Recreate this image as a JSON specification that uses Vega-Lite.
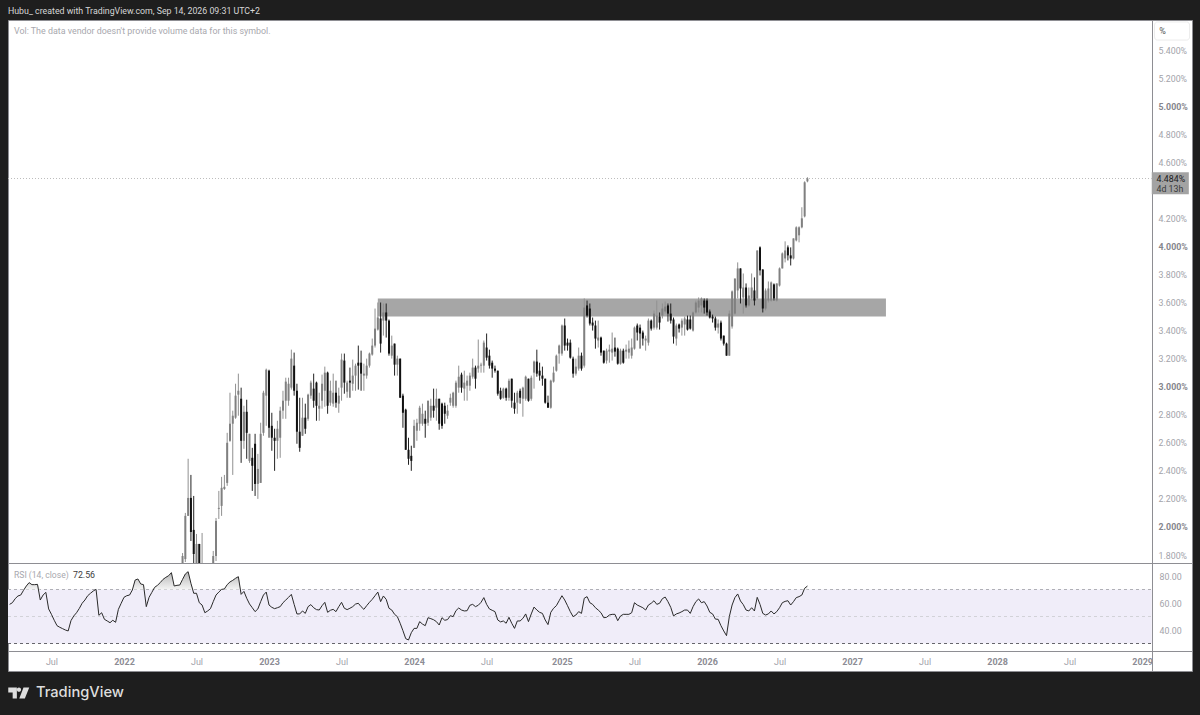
{
"$schema":"https://vega.github.io/schema/vega-lite/v6.json",
"background":"#1e1e1e",
"padding":{"left":7,"right":9,"top":6,"bottom":0},
"bounds":"flush",
"title":{"text":"Hubu_ created with TradingView.com, Sep 14, 2026 09:31 UTC+2","anchor":"start","frame":"group","font":"Roboto","fontSize":8.8,"fontWeight":"normal","color":"#d6d6d6","offset":4},
"spacing":0,
"config":{"concat":{"spacing":0},"axis":{"grid":false,"title":null,"labelOverlap":false}},
"datasets":{"weeks":[
{"d":"2021-03-22","r":59.0},{"d":"2021-03-29","r":60.2},{"d":"2021-04-05","r":63.2},{"d":"2021-04-12","r":65.2},{"d":"2021-04-19","r":65.9},{"d":"2021-04-26","r":69.4,"ob":70},{"d":"2021-05-03","r":72.6,"ob":72.6},{"d":"2021-05-10","r":75.1,"ob":75.1},{"d":"2021-05-17","r":73.6,"ob":73.6},{"d":"2021-05-24","r":73.6,"ob":73.6},{"d":"2021-05-31","r":73.8,"ob":73.8},{"d":"2021-06-07","r":62.2,"ob":70},{"d":"2021-06-14","r":65.9},{"d":"2021-06-21","r":67.9},{"d":"2021-06-28","r":55.6},
{"d":"2021-07-05","r":51.6},{"d":"2021-07-12","r":47.2},{"d":"2021-07-19","r":43.2},{"d":"2021-07-26","r":42},{"d":"2021-08-02","r":41},{"d":"2021-08-09","r":40},{"d":"2021-08-16","r":39.3},{"d":"2021-08-23","r":46.9},{"d":"2021-08-30","r":50.4},{"d":"2021-09-06","r":52.8},{"d":"2021-09-13","r":56},{"d":"2021-09-20","r":59.8},{"d":"2021-09-27","r":62.2},{"d":"2021-10-04","r":65.4},{"d":"2021-10-11","r":67.2},{"d":"2021-10-18","r":68.9},{"d":"2021-10-25","r":70.1},{"d":"2021-11-01","r":50.9},{"d":"2021-11-08","r":52.8},{"d":"2021-11-15","r":47.9},{"d":"2021-11-22","r":46.7},{"d":"2021-11-29","r":45.4},{"d":"2021-12-06","r":47.2},{"d":"2021-12-13","r":45.7},{"d":"2021-12-20","r":55.3},{"d":"2021-12-27","r":59.8},
{"d":"2022-01-03","r":64.2},{"d":"2022-01-10","r":65.4},{"d":"2022-01-17","r":65.9},{"d":"2022-01-24","r":69.6,"ob":70},{"d":"2022-01-31","r":77,"ob":77},{"d":"2022-02-07","r":77.8,"ob":77.8},{"d":"2022-02-14","r":74.1,"ob":74.1},{"d":"2022-02-21","r":73.6,"ob":73.6},{"d":"2022-02-28","r":57.3,"ob":70},{"d":"2022-03-07","r":64.2},{"d":"2022-03-14","r":67.9,"ob":70},{"d":"2022-03-21","r":71.6,"ob":71.6},{"d":"2022-03-28","r":73.1,"ob":73.1},{"d":"2022-04-04","r":75.1,"ob":75.1},{"d":"2022-04-11","r":77.5,"ob":77.5},{"d":"2022-04-18","r":79,"ob":79},{"d":"2022-04-25","r":80.2,"ob":80.2},{"d":"2022-05-02","r":82.5,"ob":82.5},{"d":"2022-05-09","r":72.6,"ob":72.6},{"d":"2022-05-16","r":73.1,"ob":73.1},{"d":"2022-05-23","r":73.3,"ob":73.3},
{"d":"2022-05-30","o":1.721,"h":1.814,"l":1.686,"c":1.793,"r":77.5,"ob":77.5},
{"d":"2022-06-06","o":1.771,"h":2.1,"l":1.75,"c":2.079,"r":81.5,"ob":81.5},
{"d":"2022-06-13","o":2.079,"h":2.486,"l":2.079,"c":2.207,"r":83.2,"ob":83.2},
{"d":"2022-06-20","o":2.207,"h":2.371,"l":1.9,"c":1.964,"r":74.6,"ob":74.6},
{"d":"2022-06-27","o":1.979,"h":2.221,"l":1.686,"c":1.807,"r":67.2,"ob":70},
{"d":"2022-07-04","o":1.686,"h":1.95,"l":1.65,"c":1.879,"r":67.2},
{"d":"2022-07-11","o":1.879,"h":1.879,"l":1.65,"c":1.686,"r":60.2},
{"d":"2022-07-18","o":1.671,"h":1.957,"l":1.629,"c":1.7,"r":58.5},
{"d":"2022-07-25","o":1.65,"h":1.686,"l":1.614,"c":1.671,"r":52.8},
{"d":"2022-08-01","o":1.671,"h":1.7,"l":1.614,"c":1.65,"r":54.1},
{"d":"2022-08-08","o":1.65,"h":1.714,"l":1.614,"c":1.686,"r":55.8},
{"d":"2022-08-15","o":1.714,"h":1.829,"l":1.686,"c":1.793,"r":61},
{"d":"2022-08-22","o":1.793,"h":2.064,"l":1.757,"c":2.043,"r":65.9},
{"d":"2022-08-29","o":2.129,"h":2.257,"l":2.057,"c":2.136,"r":68.1,"ob":70},
{"d":"2022-09-05","o":2.15,"h":2.357,"l":2.079,"c":2.279,"r":70.1,"ob":70.1},
{"d":"2022-09-12","o":2.271,"h":2.371,"l":2.264,"c":2.286,"r":70.4,"ob":70.4},
{"d":"2022-09-19","o":2.314,"h":2.671,"l":2.293,"c":2.6,"r":73.6,"ob":73.6},
{"d":"2022-09-26","o":2.614,"h":2.957,"l":2.607,"c":2.736,"r":75.6,"ob":75.6},
{"d":"2022-10-03","o":2.736,"h":2.829,"l":2.371,"c":2.793,"r":76.8,"ob":76.8},
{"d":"2022-10-10","o":2.779,"h":3.021,"l":2.771,"c":2.936,"r":78.3,"ob":78.3},
{"d":"2022-10-17","o":2.943,"h":3.093,"l":2.793,"c":2.971,"r":79.5,"ob":79.5},
{"d":"2022-10-24","o":2.914,"h":2.993,"l":2.457,"c":2.614,"r":66.4,"ob":70},
{"d":"2022-10-31","o":2.614,"h":2.864,"l":2.557,"c":2.821,"r":68.6},
{"d":"2022-11-07","o":2.821,"h":2.907,"l":2.486,"c":2.671,"r":63.5},
{"d":"2022-11-14","o":2.471,"h":2.664,"l":2.457,"c":2.664,"r":59.3},
{"d":"2022-11-21","o":2.493,"h":2.564,"l":2.257,"c":2.436,"r":56.5},
{"d":"2022-11-28","o":2.593,"h":2.664,"l":2.221,"c":2.307,"r":53.6},
{"d":"2022-12-05","o":2.307,"h":2.521,"l":2.2,"c":2.414,"r":55.6},
{"d":"2022-12-12","o":2.314,"h":2.743,"l":2.314,"c":2.664,"r":61},
{"d":"2022-12-19","o":2.671,"h":2.971,"l":2.65,"c":2.957,"r":65.9},
{"d":"2022-12-26","o":2.936,"h":3.129,"l":2.721,"c":3.121,"r":68.1},
{"d":"2023-01-02","o":3.114,"h":3.121,"l":2.636,"c":2.707,"r":58.5},
{"d":"2023-01-09","o":2.721,"h":2.814,"l":2.543,"c":2.636,"r":56.8},
{"d":"2023-01-16","o":2.636,"h":2.7,"l":2.4,"c":2.614,"r":55.8},
{"d":"2023-01-23","o":2.614,"h":2.757,"l":2.486,"c":2.7,"r":56.5},
{"d":"2023-01-30","o":2.636,"h":2.857,"l":2.493,"c":2.829,"r":57.3},
{"d":"2023-02-06","o":2.829,"h":2.971,"l":2.771,"c":2.9,"r":60.2},
{"d":"2023-02-13","o":2.9,"h":3.064,"l":2.771,"c":3.036,"r":62.2},
{"d":"2023-02-20","o":2.9,"h":3.064,"l":2.864,"c":3.021,"r":64.2},
{"d":"2023-02-27","o":2.993,"h":3.264,"l":2.979,"c":3.2,"r":66.4},
{"d":"2023-03-06","o":3.15,"h":3.243,"l":2.936,"c":2.971,"r":59},
{"d":"2023-03-13","o":2.971,"h":3.021,"l":2.593,"c":2.679,"r":51.9},
{"d":"2023-03-20","o":2.679,"h":2.921,"l":2.536,"c":2.564,"r":51.9},
{"d":"2023-03-27","o":2.65,"h":2.921,"l":2.65,"c":2.779,"r":54.1},
{"d":"2023-04-03","o":2.779,"h":2.879,"l":2.664,"c":2.7,"r":52.3},
{"d":"2023-04-10","o":2.771,"h":2.95,"l":2.757,"c":2.943,"r":57.3},
{"d":"2023-04-17","o":2.936,"h":3.043,"l":2.914,"c":3.029,"r":58.8},
{"d":"2023-04-24","o":2.986,"h":3.093,"l":2.85,"c":2.9,"r":56.5},
{"d":"2023-05-01","o":3.029,"h":3.036,"l":2.757,"c":2.864,"r":55.1},
{"d":"2023-05-08","o":2.843,"h":2.957,"l":2.757,"c":2.864,"r":54.8},
{"d":"2023-05-15","o":2.9,"h":3.086,"l":2.843,"c":3.021,"r":58},
{"d":"2023-05-22","o":2.971,"h":3.143,"l":2.857,"c":3.1,"r":60.5},
{"d":"2023-05-29","o":3.1,"h":3.107,"l":2.807,"c":2.864,"r":53.1},
{"d":"2023-06-05","o":2.886,"h":3.043,"l":2.864,"c":2.971,"r":54.6},
{"d":"2023-06-12","o":2.879,"h":3.093,"l":2.857,"c":2.957,"r":55.3},
{"d":"2023-06-19","o":2.957,"h":3.043,"l":2.85,"c":2.886,"r":53.6},
{"d":"2023-06-26","o":2.879,"h":2.993,"l":2.814,"c":2.936,"r":57.3},
{"d":"2023-07-03","o":2.993,"h":3.236,"l":2.9,"c":3.193,"r":60.5},
{"d":"2023-07-10","o":3.186,"h":3.236,"l":2.95,"c":3.029,"r":56.1},
{"d":"2023-07-17","o":2.964,"h":3.043,"l":2.921,"c":3.029,"r":55.1},
{"d":"2023-07-24","o":3.043,"h":3.136,"l":2.921,"c":3.029,"r":56.1},
{"d":"2023-07-31","o":3.021,"h":3.193,"l":2.971,"c":3.079,"r":57.3},
{"d":"2023-08-07","o":3.079,"h":3.164,"l":2.971,"c":3.15,"r":59.2},
{"d":"2023-08-14","o":3.171,"h":3.293,"l":2.979,"c":3.15,"r":59.8},
{"d":"2023-08-21","o":3.171,"h":3.257,"l":2.971,"c":3.093,"r":57.3},
{"d":"2023-08-28","o":3.079,"h":3.164,"l":2.971,"c":3.093,"r":55.3},
{"d":"2023-09-04","o":3.079,"h":3.2,"l":3.057,"c":3.15,"r":58},
{"d":"2023-09-11","o":3.15,"h":3.243,"l":3.136,"c":3.236,"r":60.5},
{"d":"2023-09-18","o":3.229,"h":3.343,"l":3.221,"c":3.293,"r":62.7},
{"d":"2023-09-25","o":3.293,"h":3.557,"l":3.279,"c":3.414,"r":65.4},
{"d":"2023-10-02","o":3.407,"h":3.6,"l":3.4,"c":3.493,"r":68.1},
{"d":"2023-10-09","o":3.486,"h":3.6,"l":3.243,"c":3.307,"r":61},
{"d":"2023-10-16","o":3.471,"h":3.593,"l":3.364,"c":3.529,"r":65.2},
{"d":"2023-10-23","o":3.529,"h":3.593,"l":3.35,"c":3.471,"r":62.7},
{"d":"2023-10-30","o":3.471,"h":3.479,"l":3.221,"c":3.236,"r":56.1},
{"d":"2023-11-06","o":3.221,"h":3.364,"l":3.2,"c":3.293,"r":54.8},
{"d":"2023-11-13","o":3.307,"h":3.307,"l":3.079,"c":3.157,"r":51.6},
{"d":"2023-11-20","o":3.157,"h":3.221,"l":3.079,"c":3.2,"r":49.9},
{"d":"2023-11-27","o":3.2,"h":3.2,"l":2.921,"c":2.921,"r":45},
{"d":"2023-12-04","o":2.936,"h":2.95,"l":2.707,"c":2.814,"r":39.5},
{"d":"2023-12-11","o":2.836,"h":2.843,"l":2.55,"c":2.55,"r":33.6},
{"d":"2023-12-18","o":2.55,"h":2.636,"l":2.443,"c":2.486,"r":32.6},
{"d":"2023-12-25","o":2.507,"h":2.579,"l":2.4,"c":2.471,"r":38},
{"d":"2024-01-01","o":2.564,"h":2.764,"l":2.564,"c":2.721,"r":41.2},
{"d":"2024-01-08","o":2.686,"h":2.771,"l":2.614,"c":2.743,"r":41.2},
{"d":"2024-01-15","o":2.736,"h":2.864,"l":2.686,"c":2.85,"r":46.2},
{"d":"2024-01-22","o":2.736,"h":2.879,"l":2.721,"c":2.807,"r":44.4},
{"d":"2024-01-29","o":2.771,"h":2.829,"l":2.636,"c":2.736,"r":43.2},
{"d":"2024-02-05","o":2.743,"h":2.9,"l":2.721,"c":2.9,"r":49.1},
{"d":"2024-02-12","o":2.779,"h":2.914,"l":2.757,"c":2.864,"r":48.4},
{"d":"2024-02-19","o":2.864,"h":2.986,"l":2.779,"c":2.829,"r":47.6},
{"d":"2024-02-26","o":2.85,"h":2.986,"l":2.757,"c":2.914,"r":46.2},
{"d":"2024-03-04","o":2.914,"h":2.914,"l":2.693,"c":2.736,"r":43.7},
{"d":"2024-03-11","o":2.879,"h":2.886,"l":2.7,"c":2.721,"r":49.1},
{"d":"2024-03-18","o":2.864,"h":2.886,"l":2.736,"c":2.807,"r":47.2},
{"d":"2024-03-25","o":2.793,"h":2.871,"l":2.771,"c":2.829,"r":47.7},
{"d":"2024-04-01","o":2.886,"h":2.95,"l":2.864,"c":2.921,"r":50.6},
{"d":"2024-04-08","o":2.864,"h":2.964,"l":2.85,"c":2.957,"r":49.9},
{"d":"2024-04-15","o":2.864,"h":3.043,"l":2.85,"c":3.029,"r":54.3},
{"d":"2024-04-22","o":2.993,"h":3.15,"l":2.957,"c":3.071,"r":56.3},
{"d":"2024-04-29","o":3.086,"h":3.1,"l":2.957,"c":2.993,"r":54.8},
{"d":"2024-05-06","o":2.986,"h":3.114,"l":2.9,"c":3.029,"r":54.1},
{"d":"2024-05-13","o":3.007,"h":3.079,"l":2.9,"c":3.043,"r":54.3},
{"d":"2024-05-20","o":3.007,"h":3.1,"l":2.971,"c":3.079,"r":58.3},
{"d":"2024-05-27","o":3.071,"h":3.2,"l":3.057,"c":3.136,"r":59},
{"d":"2024-06-03","o":3.136,"h":3.15,"l":2.986,"c":3.057,"r":57.3},
{"d":"2024-06-10","o":3.129,"h":3.336,"l":3.1,"c":3.15,"r":58.3},
{"d":"2024-06-17","o":3.15,"h":3.171,"l":3.1,"c":3.157,"r":60.5},
{"d":"2024-06-24","o":3.15,"h":3.329,"l":3.1,"c":3.314,"r":64},
{"d":"2024-07-01","o":3.279,"h":3.379,"l":3.186,"c":3.207,"r":59},
{"d":"2024-07-08","o":3.221,"h":3.264,"l":3.129,"c":3.15,"r":55.6},
{"d":"2024-07-15","o":3.171,"h":3.186,"l":3.064,"c":3.129,"r":54.6},
{"d":"2024-07-22","o":3.129,"h":3.15,"l":3.1,"c":3.114,"r":53.6},
{"d":"2024-07-29","o":3.114,"h":3.114,"l":2.936,"c":2.95,"r":47.4},
{"d":"2024-08-05","o":2.971,"h":2.993,"l":2.907,"c":2.914,"r":46},
{"d":"2024-08-12","o":2.921,"h":2.993,"l":2.914,"c":2.986,"r":46.7},
{"d":"2024-08-19","o":2.986,"h":2.993,"l":2.9,"c":2.921,"r":45},
{"d":"2024-08-26","o":2.921,"h":3.057,"l":2.9,"c":3.043,"r":49.4},
{"d":"2024-09-02","o":3.057,"h":3.057,"l":2.85,"c":2.9,"r":45},
{"d":"2024-09-09","o":2.886,"h":2.957,"l":2.807,"c":2.843,"r":41.2},
{"d":"2024-09-16","o":2.886,"h":2.971,"l":2.807,"c":2.957,"r":46.7},
{"d":"2024-09-23","o":2.971,"h":2.986,"l":2.879,"c":2.921,"r":46.7},
{"d":"2024-09-30","o":2.914,"h":3,"l":2.786,"c":2.993,"r":48.6},
{"d":"2024-10-07","o":2.914,"h":3.079,"l":2.9,"c":3.071,"r":51.9},
{"d":"2024-10-14","o":3.057,"h":3.057,"l":2.893,"c":2.9,"r":46.2},
{"d":"2024-10-21","o":2.914,"h":3.079,"l":2.9,"c":3.064,"r":51.9},
{"d":"2024-10-28","o":3.1,"h":3.186,"l":2.986,"c":3.179,"r":57},
{"d":"2024-11-04","o":3.179,"h":3.264,"l":3.071,"c":3.093,"r":54.8},
{"d":"2024-11-11","o":3.114,"h":3.171,"l":3.043,"c":3.079,"r":53.1},
{"d":"2024-11-18","o":3.079,"h":3.143,"l":3.007,"c":3.057,"r":52.3},
{"d":"2024-11-25","o":3.057,"h":3.057,"l":2.879,"c":2.886,"r":47.4},
{"d":"2024-12-02","o":2.886,"h":2.936,"l":2.85,"c":2.85,"r":44},
{"d":"2024-12-09","o":2.85,"h":3.05,"l":2.843,"c":3.043,"r":53.1},
{"d":"2024-12-16","o":3.036,"h":3.143,"l":3.029,"c":3.1,"r":56.1},
{"d":"2024-12-23","o":3.114,"h":3.229,"l":3.107,"c":3.221,"r":58},
{"d":"2024-12-30","o":3.236,"h":3.3,"l":3.164,"c":3.293,"r":61.7},
{"d":"2025-01-06","o":3.236,"h":3.443,"l":3.221,"c":3.436,"r":65.4},
{"d":"2025-01-13","o":3.436,"h":3.486,"l":3.257,"c":3.293,"r":62.2},
{"d":"2025-01-20","o":3.314,"h":3.343,"l":3.257,"c":3.293,"r":58},
{"d":"2025-01-27","o":3.314,"h":3.336,"l":3.2,"c":3.207,"r":53.6},
{"d":"2025-02-03","o":3.2,"h":3.214,"l":3.064,"c":3.093,"r":49.9},
{"d":"2025-02-10","o":3.093,"h":3.2,"l":3.079,"c":3.143,"r":51.1},
{"d":"2025-02-17","o":3.129,"h":3.279,"l":3.114,"c":3.221,"r":53.6},
{"d":"2025-02-24","o":3.221,"h":3.243,"l":3.114,"c":3.129,"r":52.3},
{"d":"2025-03-03","o":3.15,"h":3.629,"l":3.136,"c":3.564,"r":63.5},
{"d":"2025-03-10","o":3.579,"h":3.614,"l":3.493,"c":3.507,"r":64.7},
{"d":"2025-03-17","o":3.557,"h":3.593,"l":3.436,"c":3.45,"r":60.2},
{"d":"2025-03-24","o":3.457,"h":3.493,"l":3.4,"c":3.436,"r":59},
{"d":"2025-03-31","o":3.436,"h":3.471,"l":3.271,"c":3.343,"r":56.5},
{"d":"2025-04-07","o":3.329,"h":3.471,"l":3.279,"c":3.35,"r":54.8},
{"d":"2025-04-14","o":3.35,"h":3.357,"l":3.221,"c":3.243,"r":52.8},
{"d":"2025-04-21","o":3.257,"h":3.257,"l":3.164,"c":3.171,"r":49.1},
{"d":"2025-04-28","o":3.186,"h":3.271,"l":3.164,"c":3.257,"r":49.4},
{"d":"2025-05-05","o":3.25,"h":3.3,"l":3.171,"c":3.264,"r":51.1},
{"d":"2025-05-12","o":3.243,"h":3.386,"l":3.186,"c":3.271,"r":51.6},
{"d":"2025-05-19","o":3.279,"h":3.35,"l":3.214,"c":3.25,"r":51.6},
{"d":"2025-05-26","o":3.271,"h":3.279,"l":3.157,"c":3.164,"r":46.9},
{"d":"2025-06-02","o":3.164,"h":3.271,"l":3.157,"c":3.257,"r":50.4},
{"d":"2025-06-09","o":3.257,"h":3.271,"l":3.164,"c":3.171,"r":51.6},
{"d":"2025-06-16","o":3.25,"h":3.3,"l":3.2,"c":3.264,"r":51.6},
{"d":"2025-06-23","o":3.243,"h":3.329,"l":3.2,"c":3.271,"r":51.6},
{"d":"2025-06-30","o":3.221,"h":3.343,"l":3.2,"c":3.279,"r":52.8},
{"d":"2025-07-07","o":3.271,"h":3.429,"l":3.264,"c":3.421,"r":60.2},
{"d":"2025-07-14","o":3.436,"h":3.45,"l":3.329,"c":3.386,"r":58.5},
{"d":"2025-07-21","o":3.421,"h":3.443,"l":3.271,"c":3.379,"r":57.5},
{"d":"2025-07-28","o":3.386,"h":3.4,"l":3.293,"c":3.343,"r":56.5},
{"d":"2025-08-04","o":3.329,"h":3.364,"l":3.257,"c":3.343,"r":54.8},
{"d":"2025-08-11","o":3.314,"h":3.486,"l":3.293,"c":3.471,"r":58.5},
{"d":"2025-08-18","o":3.471,"h":3.479,"l":3.4,"c":3.414,"r":59.8},
{"d":"2025-08-25","o":3.421,"h":3.543,"l":3.407,"c":3.521,"r":61.7},
{"d":"2025-09-01","o":3.421,"h":3.614,"l":3.407,"c":3.507,"r":59},
{"d":"2025-09-08","o":3.5,"h":3.529,"l":3.407,"c":3.457,"r":59.8},
{"d":"2025-09-15","o":3.507,"h":3.593,"l":3.486,"c":3.557,"r":63.2},
{"d":"2025-09-22","o":3.536,"h":3.607,"l":3.521,"c":3.571,"r":64.4},
{"d":"2025-09-29","o":3.579,"h":3.593,"l":3.464,"c":3.521,"r":61},
{"d":"2025-10-06","o":3.521,"h":3.593,"l":3.45,"c":3.471,"r":56.8},
{"d":"2025-10-13","o":3.479,"h":3.493,"l":3.307,"c":3.357,"r":50.4},
{"d":"2025-10-20","o":3.343,"h":3.45,"l":3.293,"c":3.436,"r":51.9},
{"d":"2025-10-27","o":3.443,"h":3.45,"l":3.386,"c":3.414,"r":52.6},
{"d":"2025-11-03","o":3.421,"h":3.486,"l":3.364,"c":3.471,"r":53.6},
{"d":"2025-11-10","o":3.443,"h":3.5,"l":3.364,"c":3.486,"r":54.8},
{"d":"2025-11-17","o":3.479,"h":3.507,"l":3.4,"c":3.407,"r":54.8},
{"d":"2025-11-24","o":3.479,"h":3.507,"l":3.407,"c":3.414,"r":52.3},
{"d":"2025-12-01","o":3.4,"h":3.536,"l":3.393,"c":3.529,"r":57.3},
{"d":"2025-12-08","o":3.529,"h":3.614,"l":3.521,"c":3.6,"r":61},
{"d":"2025-12-15","o":3.564,"h":3.636,"l":3.529,"c":3.614,"r":63},
{"d":"2025-12-22","o":3.579,"h":3.636,"l":3.529,"c":3.629,"r":60.2},
{"d":"2025-12-29","o":3.614,"h":3.629,"l":3.521,"c":3.564,"r":61},
{"d":"2026-01-05","o":3.614,"h":3.629,"l":3.507,"c":3.529,"r":57.8},
{"d":"2026-01-12","o":3.536,"h":3.55,"l":3.486,"c":3.493,"r":53.1},
{"d":"2026-01-19","o":3.5,"h":3.514,"l":3.457,"c":3.486,"r":51.9},
{"d":"2026-01-26","o":3.486,"h":3.5,"l":3.4,"c":3.421,"r":48.1},
{"d":"2026-02-02","o":3.421,"h":3.479,"l":3.379,"c":3.45,"r":47.9},
{"d":"2026-02-09","o":3.457,"h":3.471,"l":3.329,"c":3.343,"r":43.2},
{"d":"2026-02-16","o":3.364,"h":3.364,"l":3.293,"c":3.307,"r":39.3},
{"d":"2026-02-23","o":3.307,"h":3.314,"l":3.221,"c":3.221,"r":35.8},
{"d":"2026-03-02","o":3.221,"h":3.543,"l":3.221,"c":3.521,"r":49.9},
{"d":"2026-03-09","o":3.429,"h":3.686,"l":3.414,"c":3.679,"r":58.5},
{"d":"2026-03-16","o":3.521,"h":3.771,"l":3.514,"c":3.771,"r":64},
{"d":"2026-03-23","o":3.686,"h":3.886,"l":3.629,"c":3.843,"r":66.7},
{"d":"2026-03-30","o":3.843,"h":3.843,"l":3.593,"c":3.7,"r":61.5},
{"d":"2026-04-06","o":3.636,"h":3.807,"l":3.521,"c":3.707,"r":58.8},
{"d":"2026-04-13","o":3.707,"h":3.736,"l":3.564,"c":3.579,"r":54.8},
{"d":"2026-04-20","o":3.579,"h":3.707,"l":3.571,"c":3.65,"r":54.1},
{"d":"2026-04-27","o":3.629,"h":3.807,"l":3.614,"c":3.707,"r":56.5},
{"d":"2026-05-04","o":3.686,"h":3.779,"l":3.579,"c":3.614,"r":54.1},
{"d":"2026-05-11","o":3.629,"h":3.971,"l":3.621,"c":3.971,"r":64.2},
{"d":"2026-05-18","o":3.993,"h":4,"l":3.793,"c":3.829,"r":59},
{"d":"2026-05-25","o":3.836,"h":3.836,"l":3.529,"c":3.557,"r":52.3},
{"d":"2026-06-01","o":3.557,"h":3.7,"l":3.543,"c":3.686,"r":51.1},
{"d":"2026-06-08","o":3.614,"h":3.75,"l":3.6,"c":3.7,"r":51.9},
{"d":"2026-06-15","o":3.614,"h":3.75,"l":3.607,"c":3.743,"r":54.1},
{"d":"2026-06-22","o":3.729,"h":3.736,"l":3.614,"c":3.629,"r":51.9},
{"d":"2026-06-29","o":3.614,"h":3.736,"l":3.607,"c":3.736,"r":53.6},
{"d":"2026-07-06","o":3.721,"h":3.85,"l":3.714,"c":3.843,"r":56.5},
{"d":"2026-07-13","o":3.843,"h":3.957,"l":3.843,"c":3.95,"r":60.2},
{"d":"2026-07-20","o":3.914,"h":4.036,"l":3.886,"c":3.971,"r":61.2},
{"d":"2026-07-27","o":3.993,"h":4.007,"l":3.9,"c":3.936,"r":61.7},
{"d":"2026-08-03","o":3.936,"h":3.993,"l":3.864,"c":3.914,"r":58.5},
{"d":"2026-08-10","o":3.914,"h":4.057,"l":3.907,"c":4.057,"r":61},
{"d":"2026-08-17","o":4.043,"h":4.143,"l":4.036,"c":4.136,"r":64},
{"d":"2026-08-24","o":4.079,"h":4.143,"l":4.029,"c":4.136,"r":64.7},
{"d":"2026-08-31","o":4.136,"h":4.279,"l":4.129,"c":4.2,"r":65.9,"ob":70},
{"d":"2026-09-07","o":4.214,"h":4.464,"l":4.207,"c":4.457,"r":70.9,"ob":70.9},
{"d":"2026-09-14","o":4.464,"h":4.493,"l":4.457,"c":4.484,"r":72.56,"ob":72.56}
]},
"vconcat":[
{
"width":1184,"height":543,
"view":{"fill":"#ffffff","stroke":"#8e8e93"},
"encoding":{"x":{"field":"d","type":"temporal","scale":{"type":"utc","padding":0,"domain":["2021-03-18","2029-05-06"]},"axis":null}},
"layer":[
{"data":{"values":[{"d":"2023-10-02","e":"2027-03-30","hi":3.629,"lo":3.5}],"format":{"parse":{"d":"date","e":"date"}}},
"mark":{"type":"rect","color":"#a6a6a6"},
"encoding":{"x2":{"field":"e"},
"y":{"field":"hi","type":"quantitative","title":null,"scale":{"domain":[1.743,5.614],"nice":false,"zero":false},
"axis":{"orient":"right","offset":-40,"values":[1.8,2,2.2,2.4,2.6,2.8,3,3.2,3.4,3.6,3.8,4,4.2,4.6,4.8,5,5.2,5.4],"tickCount":40,"labelExpr":"format(datum.value,'.3f')+'%'","labelOverlap":false,"ticks":false,"domainColor":"#8e8e93","labelFont":"Roboto","labelFontSize":8.8,"labelPadding":6,"labelColor":{"condition":{"test":"datum.value==2||datum.value==3||datum.value==4||datum.value==5","value":"#85858c"},"value":"#a3a3aa"},"labelFontWeight":{"condition":{"test":"datum.value==2||datum.value==3||datum.value==4||datum.value==5","value":"bold"},"value":"normal"}}},
"y2":{"field":"lo"}}},
{"data":{"values":[{"d":"2021-03-18","e":"2029-01-25","p":4.484}],"format":{"parse":{"d":"date","e":"date"}}},
"mark":{"type":"rule","color":"#bdbdbd","strokeWidth":1,"strokeDash":[1,2]},
"encoding":{"x2":{"field":"e"},"y":{"field":"p","type":"quantitative","title":null}}},
{"data":{"name":"weeks"},
"mark":{"type":"rule","strokeWidth":1,"clip":true},
"encoding":{"y":{"field":"h","type":"quantitative","title":null},"y2":{"field":"l"},"color":{"condition":{"test":"datum.c>=datum.o","value":"#909090"},"value":"#222222"}}},
{"data":{"name":"weeks"},
"mark":{"type":"bar","size":2,"clip":true},
"encoding":{"y":{"field":"o","type":"quantitative","title":null},"y2":{"field":"c"},"color":{"condition":{"test":"datum.c>=datum.o","value":"#808080"},"value":"#111111"}}},
{"data":{"values":[{"d":"2021-04-02","p":5.536,"t":"Vol: The data vendor doesn't provide volume data for this symbol."}],"format":{"parse":{"d":"date"}}},
"mark":{"type":"text","align":"left","font":"Roboto","fontSize":8.9,"color":"#a8a8ae"},
"encoding":{"y":{"field":"p","type":"quantitative","title":null},"text":{"field":"t"}}},
{"data":{"values":[{"d":"2029-02-01","e":"2029-04-30","hi":5.6,"lo":5.471}],"format":{"parse":{"d":"date","e":"date"}}},
"mark":{"type":"rect","fill":"#ffffff","stroke":"#ececec","cornerRadius":3},
"encoding":{"x2":{"field":"e"},"y":{"field":"hi","type":"quantitative","title":null},"y2":{"field":"lo"}}},
{"data":{"values":[{"d":"2029-02-21","p":5.536,"t":"%"}],"format":{"parse":{"d":"date"}}},
"mark":{"type":"text","font":"Roboto","fontSize":9,"color":"#555555"},
"encoding":{"y":{"field":"p","type":"quantitative","title":null},"text":{"field":"t"}}},
{"data":{"values":[{"d":"2029-01-25","e":"2029-04-28","hi":4.529,"lo":4.371}],"format":{"parse":{"d":"date","e":"date"}}},
"mark":{"type":"rect","color":"#a3a3a3"},
"encoding":{"x2":{"field":"e"},"y":{"field":"hi","type":"quantitative","title":null},"y2":{"field":"lo"}}},
{"data":{"values":[{"d":"2029-02-06","p":4.484,"t":"4.484%"}],"format":{"parse":{"d":"date"}}},
"mark":{"type":"text","align":"left","font":"Roboto","fontSize":8.8,"color":"#1c1c1c"},
"encoding":{"y":{"field":"p","type":"quantitative","title":null},"text":{"field":"t"}}},
{"data":{"values":[{"d":"2029-02-06","p":4.407,"t":"4d 13h"}],"format":{"parse":{"d":"date"}}},
"mark":{"type":"text","align":"left","font":"Roboto","fontSize":8.8,"color":"#3a3a3a"},
"encoding":{"y":{"field":"p","type":"quantitative","title":null},"text":{"field":"t"}}}
]
},
{
"width":1184,"height":108,
"view":{"fill":"#ffffff","stroke":"#8e8e93"},
"encoding":{"x":{"field":"d","type":"temporal","title":null,"scale":{"type":"utc","padding":0,"domain":["2021-03-18","2029-05-06"]},
"axis":{"orient":"bottom","offset":-20,"values":["2021-07-05","2022-01-03","2022-07-04","2023-01-02","2023-07-03","2024-01-01","2024-07-01","2025-01-06","2025-07-07","2026-01-05","2026-07-06","2027-01-04","2027-07-05","2028-01-03","2028-07-03","2029-01-01"],"tickCount":40,"labelExpr":"utcmonth(datum.value)==0?utcyear(datum.value):'Jul'","ticks":false,"domainColor":"#8e8e93","labelFont":"Roboto","labelFontSize":9,"labelPadding":6,"labelOverlap":false,"labelBound":false,"labelFlush":false,"labelColor":{"condition":{"test":"utcmonth(datum.value)==0","value":"#8c8c94"},"value":"#a3a3aa"},"labelFontWeight":{"condition":{"test":"utcmonth(datum.value)==0","value":"bold"},"value":"normal"}}}},
"layer":[
{"data":{"values":[{"d":"2021-03-18","e":"2029-01-25","hi":70,"lo":30}],"format":{"parse":{"d":"date","e":"date"}}},
"mark":{"type":"rect","color":"#f0edf9"},
"encoding":{
"x2":{"field":"e"},
"y":{"field":"hi","type":"quantitative","title":null,"scale":{"domain":[9.63,89.63],"nice":false,"zero":false},
"axis":{"orient":"right","offset":-40,"values":[40,60,80],"format":".2f","ticks":false,"domainColor":"#8e8e93","labelFont":"Roboto","labelFontSize":8.8,"labelPadding":7,"labelColor":"#a3a3aa"}},
"y2":{"field":"lo"}}},
{"data":{"values":[{"d":"2021-03-18","e":"2029-01-25","lv":70}],"format":{"parse":{"d":"date","e":"date"}}},
"mark":{"type":"rule","color":"#b0b0b6","strokeWidth":1,"strokeDash":[3,3]},
"encoding":{"x2":{"field":"e"},"y":{"field":"lv","type":"quantitative","title":null}}},
{"data":{"values":[{"d":"2021-03-18","e":"2029-01-25","lv":50}],"format":{"parse":{"d":"date","e":"date"}}},
"mark":{"type":"rule","color":"#d2d2d8","strokeWidth":1,"strokeDash":[3,3]},
"encoding":{"x2":{"field":"e"},"y":{"field":"lv","type":"quantitative","title":null}}},
{"data":{"values":[{"d":"2021-03-18","e":"2029-01-25","lv":30}],"format":{"parse":{"d":"date","e":"date"}}},
"mark":{"type":"rule","color":"#66666c","strokeWidth":1,"strokeDash":[3,3]},
"encoding":{"x2":{"field":"e"},"y":{"field":"lv","type":"quantitative","title":null}}},
{"data":{"name":"weeks"},
"mark":{"type":"area","color":{"x1":1,"y1":0,"x2":1,"y2":1,"gradient":"linear","stops":[{"offset":0,"color":"#b5b5b5"},{"offset":1,"color":"#f4f4f4"}]}},
"encoding":{"y":{"field":"ob","type":"quantitative","title":null},"y2":{"datum":70}}},
{"data":{"name":"weeks"},
"mark":{"type":"line","color":"#2a2a2a","strokeWidth":1},
"encoding":{"y":{"field":"r","type":"quantitative","title":null}}},
{"data":{"values":[{"d":"2021-04-02","v":80.7,"t":"RSI (14, close)"}],"format":{"parse":{"d":"date"}}},
"mark":{"type":"text","align":"left","font":"Roboto","fontSize":8.6,"color":"#a8a8ae"},
"encoding":{"y":{"field":"v","type":"quantitative","title":null},"text":{"field":"t"}}},
{"data":{"values":[{"d":"2021-08-28","v":80.7,"t":"72.56"}],"format":{"parse":{"d":"date"}}},
"mark":{"type":"text","align":"left","font":"Roboto","fontSize":8.8,"color":"#3c3c3c"},
"encoding":{"y":{"field":"v","type":"quantitative","title":null},"text":{"field":"t"}}}
]
},
{
"width":1184,"height":44,
"view":{"fill":null,"stroke":null},
"encoding":{"x":{"field":"d","type":"temporal","scale":{"type":"utc","padding":0,"domain":["2021-03-18","2029-05-06"]},"axis":null},"y":{"field":"v","type":"quantitative","scale":{"domain":[0,1]},"axis":null}},
"layer":[
{"data":{"values":[{"d":"2021-04-14","v":0.5}],"format":{"parse":{"d":"date"}}},
"mark":{"type":"point","filled":true,"opacity":1,"color":"#dedede","size":441,"shape":"M-1,-0.52H-0.18V0.52H-0.58V-0.05H-1Z M0.02,-0.52A0.2,0.2 0 1 1 0.02,-0.12A0.2,0.2 0 1 1 0.02,-0.52Z M0.45,-0.52H1L0.58,0.52H0.05Z"}},
{"data":{"values":[{"d":"2021-05-27","v":0.5,"t":"TradingView"}],"format":{"parse":{"d":"date"}}},
"mark":{"type":"text","align":"left","font":"Inter","fontSize":14.7,"fontWeight":500,"color":"#dedede"},
"encoding":{"text":{"field":"t"}}}
]
}
]
}
